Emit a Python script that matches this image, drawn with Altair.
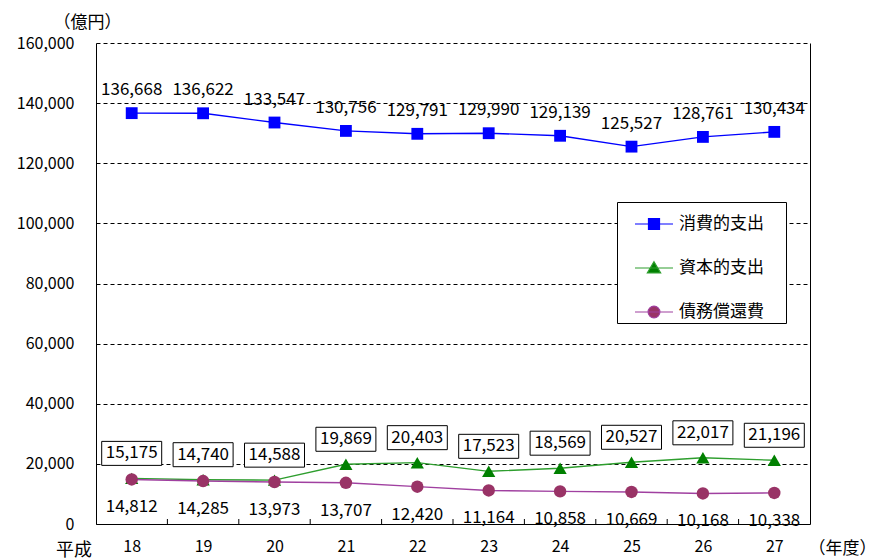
import altair as alt
import pandas as pd

# Fiscal years (Heisei) and expenditure totals in 100 million yen
years = ["18", "19", "20", "21", "22", "23", "24", "25", "26", "27"]
consumption = [136668, 136622, 133547, 130756, 129791, 129990, 129139, 125527, 128761, 130434]
capital = [15175, 14740, 14588, 19869, 20403, 17523, 18569, 20527, 22017, 21196]
debt = [14812, 14285, 13973, 13707, 12420, 11164, 10858, 10669, 10168, 10338]

series_names = ["消費的支出", "資本的支出", "債務償還費"]
marker_colors = ["#0000FF", "#008000", "#993366"]
line_colors = ["#0000FF", "#2E9E2E", "#A040A0"]

FONT = "Noto Sans CJK JP"
W, H = 714, 481
STEP = W / len(years)


def frame(vals, name):
    return pd.DataFrame({"year": years, "value": vals, "series": name})


cons_df = frame(consumption, series_names[0])
cap_df = frame(capital, series_names[1])
debt_df = frame(debt, series_names[2])
all_df = pd.concat([cons_df, cap_df, debt_df], ignore_index=True)

y_scale = alt.Scale(domain=[0, 160000], nice=False)

x_enc = alt.X(
    "year:N", sort=years, scale=alt.Scale(type="point", padding=0.5),
    axis=alt.Axis(
        labelAngle=0, labelFont=FONT, labelFontSize=16, labelColor="black",
        labelPadding=14, ticks=False, domainColor="black", domainWidth=1,
        title="（年度）", titleX=712, titleY=24, titleAlign="left",
        titleBaseline="middle", titleFont=FONT, titleFontSize=17,
        titleFontWeight="normal", titleColor="black",
    ),
)

y_main = alt.Y(
    "value:Q", scale=y_scale,
    axis=alt.Axis(
        values=list(range(0, 160001, 20000)), format=",d",
        grid=True, gridDash=[4, 3], gridColor="black", gridWidth=1, gridOpacity=1,
        domainColor="black", domainWidth=1, ticks=False, labelPadding=22,
        labelFont=FONT, labelFontSize=16, labelColor="black",
        title="（億円）", titleAngle=0, titleX=-43, titleY=-21,
        titleAlign="left", titleBaseline="middle", titleFont=FONT,
        titleFontSize=17, titleFontWeight="normal", titleColor="black",
    ),
)
y_plain = alt.Y("value:Q", scale=y_scale, axis=None)
y_right = alt.Y(
    "value:Q", scale=y_scale,
    axis=alt.Axis(orient="right", labels=False, ticks=False, grid=False,
                  domainColor="black", domainWidth=1, title=None),
)

base_axes = alt.Chart(cons_df).mark_line(opacity=0).encode(x=x_enc, y=y_main)
right_axis = alt.Chart(cons_df).mark_line(opacity=0).encode(x=x_enc, y=y_right)

# small inward ticks on the x axis between the year categories
tick_df = pd.DataFrame({"year": years[1:]})
x_ticks = alt.Chart(tick_df).mark_rule(color="black", strokeWidth=1).encode(
    x=x_enc, xOffset=alt.value(-STEP / 2), y=alt.value(H - 5), y2=alt.value(H)
)


def series_layers(df, line_color, marker_color, shape, size):
    line = alt.Chart(df).mark_line(color=line_color, strokeWidth=1.4).encode(x=x_enc, y=y_plain)
    pts = alt.Chart(df).mark_point(
        shape=shape, size=size, filled=True, color=marker_color, opacity=1
    ).encode(x=x_enc, y=y_plain)
    return line, pts


cons_line, cons_pts = series_layers(cons_df, line_colors[0], marker_colors[0], "square", 140)
cap_line, cap_pts = series_layers(cap_df, line_colors[1], marker_colors[1], "triangle-up", 175)
debt_line, debt_pts = series_layers(debt_df, line_colors[2], marker_colors[2], "circle", 155)

label_fmt = alt.Text("value:Q", format=",")
LABEL_SIZE = 17

cons_text = alt.Chart(cons_df).mark_text(
    font=FONT, fontSize=LABEL_SIZE, color="black", dy=-23, baseline="middle"
).encode(x=x_enc, y=y_plain, text=label_fmt)

box_path = "M-1,-0.4H1V0.4H-1Z"
cap_box = alt.Chart(cap_df).mark_point(
    shape=box_path, size=3600, filled=True, fill="white", stroke="black",
    strokeWidth=1, opacity=1, yOffset=-25,
).encode(x=x_enc, y=y_plain)
cap_text = alt.Chart(cap_df).mark_text(
    font=FONT, fontSize=LABEL_SIZE, color="black", dy=-25, baseline="middle"
).encode(x=x_enc, y=y_plain, text=label_fmt)

debt_text = alt.Chart(debt_df).mark_text(
    font=FONT, fontSize=LABEL_SIZE, color="black", dy=28, baseline="middle"
).encode(x=x_enc, y=y_plain, text=label_fmt)

era_text = alt.Chart(pd.DataFrame({"t": ["平成"]})).mark_text(
    font=FONT, fontSize=18, color="black", align="center", baseline="middle"
).encode(text="t:N", x=alt.value(-22), y=alt.value(H + 27))

# Legend symbols: a short line with the series marker on it
legend_paths = [
    "M-1,0H1M-0.29,-0.29H0.29V0.29H-0.29Z",
    "M-1,0H1M0,-0.33L0.35,0.26H-0.35Z",
    "M-1,0H1M0.31,0A0.31,0.31 0 1 1 -0.31,0A0.31,0.31 0 1 1 0.31,0Z",
]
# a fully transparent title on the right keeps white space after the labels
leg = alt.Legend(
    title="―", titleOrient="right", titleFontSize=17, titleOpacity=0,
    titlePadding=3,
    orient="none", legendX=521, legendY=159,
    strokeColor="black", fillColor="white", padding=2,
    labelFont=FONT, labelFontSize=17, labelColor="black",
    symbolSize=1444, symbolStrokeWidth=1.2, symbolOpacity=1,
    symbolFillColor="white", symbolOffset=15,
    rowPadding=16, labelOffset=5,
)
legend_layer = alt.Chart(all_df).mark_point(
    filled=True, opacity=0, strokeWidth=1, size=1444
).encode(
    x=x_enc, y=y_plain,
    fill=alt.Fill("series:N", sort=series_names,
                  scale=alt.Scale(domain=series_names, range=marker_colors), legend=leg),
    stroke=alt.Stroke("series:N", sort=series_names,
                      scale=alt.Scale(domain=series_names, range=line_colors), legend=leg),
    shape=alt.Shape("series:N", sort=series_names,
                    scale=alt.Scale(domain=series_names, range=legend_paths), legend=leg),
)

chart = alt.layer(
    base_axes, right_axis, x_ticks,
    cons_line, cap_line, debt_line,
    cons_pts, cap_pts, debt_pts,
    cap_box, cons_text, cap_text, debt_text, era_text,
    legend_layer,
).resolve_axis(y="independent").properties(
    width=W, height=H,
    autosize=alt.AutoSizeParams(type="none"),
    padding={"left": 96, "top": 43, "right": 66, "bottom": 36},
    background="white",
).configure_view(stroke=None)

chart.save("out.html", embed_options={"renderer": "svg", "actions": False})
